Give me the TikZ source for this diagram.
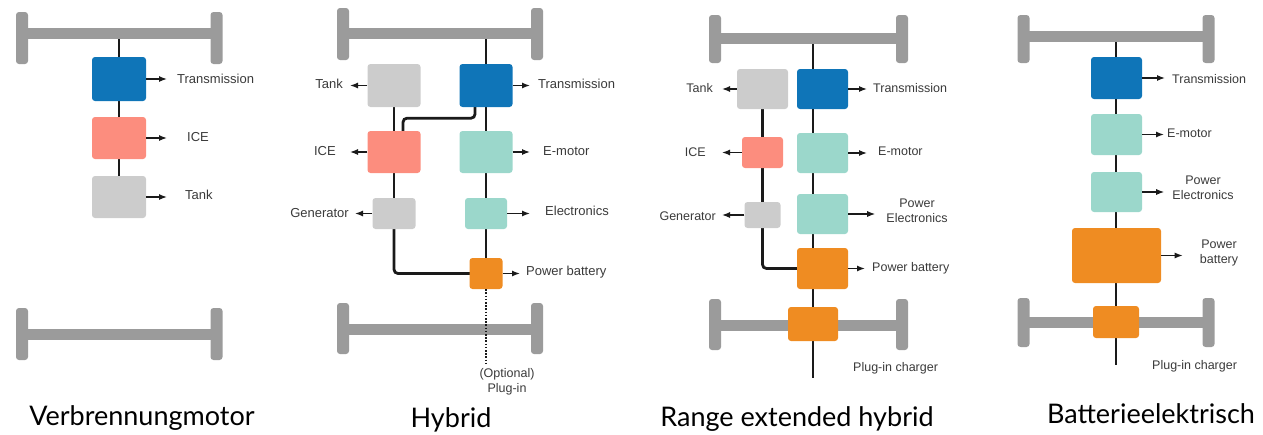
\documentclass[tikz,border=0pt]{standalone}
\usepackage{fontspec}
\newfontfamily\labfont{Liberation Sans}
\newfontfamily\capfont{Lato}
\usetikzlibrary{arrows.meta,backgrounds}
\definecolor{axlegray}{HTML}{9B9B9B}
\definecolor{tblue}{HTML}{0F75B8}
\definecolor{salmon}{HTML}{FC8D7E}
\definecolor{lgray}{HTML}{CCCCCC}
\definecolor{teal}{HTML}{9BD7CB}
\definecolor{orng}{HTML}{EF8C22}
\definecolor{labtext}{HTML}{3A3A3A}
\definecolor{wirecol}{HTML}{1A1A1A}
\newcommand\wheelaxle[5]{%
  \fill[axlegray] (#1,#5-5.5) rectangle (#2,#5+5.5);
  \fill[axlegray, rounded corners=3pt] (#1-6,#3) rectangle (#1+6,#4);
  \fill[axlegray, rounded corners=3pt] (#2-6,#3) rectangle (#2+6,#4);}
\begin{document}
\begin{tikzpicture}[x=1pt,y=-1pt,
  box/.style={rectangle, rounded corners=3pt, inner sep=0pt, draw=none},
  wire/.style={line width=2.8pt, wirecol},
  lbl/.style={font=\labfont\fontsize{13}{15}\selectfont, text=labtext, inner sep=0pt},
  lbls/.style={font=\labfont\fontsize{12.5}{15.5}\selectfont, text=labtext, inner sep=0pt, align=center},
  outarr/.style={line width=1.3pt, -{Latex[length=8pt,width=6pt]}, wirecol, shorten >=#1},
  outarr/.default=8pt,
  captxt/.style={font=\capfont\fontsize{27}{30}\selectfont, inner sep=0pt, anchor=base}
]
\useasboundingbox (0,0) rectangle (1263,434);

% ================= Panel 1: Verbrennungmotor
\wheelaxle{22}{216.5}{12}{64}{33.5}
\wheelaxle{22}{216.5}{308}{360}{334}
\coordinate (a1) at (119,33.5);
\node[box, fill=tblue, minimum width=54pt, minimum height=44pt] (p1t) at (119,79) {};
\node[box, fill=salmon, minimum width=54pt, minimum height=42pt] (p1i) at (119,138) {};
\node[box, fill=lgray, minimum width=54pt, minimum height=42pt] (p1k) at (119,197) {};
\begin{scope}[on background layer]
\draw[wire] (a1) -- (p1t.center);
\draw[wire] (p1t.center) -- (p1i.center) -- (p1k.north);
\end{scope}
\node[lbl, anchor=west] (l1t) at (177,79) {Transmission};
\node[lbl, anchor=west] (l1i) at (187,137) {ICE};
\node[lbl, anchor=west] (l1k) at (185,195) {Tank};
\draw[outarr=10pt] (p1t.east) -- (l1t.west |- p1t.east);
\draw[outarr=20pt] (p1i.east) -- (l1i.west |- p1i.east);
\draw[outarr=18pt] (p1k.east) -- (l1k.west |- p1k.east);
\node[captxt] (c1) at (142,425) {Verbrennungmotor};

% ================= Panel 2: Hybrid
\wheelaxle{343}{537}{8}{60}{33.5}
\wheelaxle{343}{537}{303}{354}{329}
\coordinate (a2) at (486,33.5);
\coordinate (e2) at (486,365);
\node[box, fill=lgray, minimum width=53pt, minimum height=43pt] (p2k) at (394,85.5) {};
\node[box, fill=tblue, minimum width=53pt, minimum height=43pt] (p2t) at (486,85.5) {};
\node[box, fill=salmon, minimum width=53pt, minimum height=42pt] (p2i) at (394,152) {};
\node[box, fill=teal, minimum width=53pt, minimum height=42pt] (p2e) at (486,152) {};
\node[box, fill=lgray, minimum width=43pt, minimum height=31pt] (p2g) at (394,213.5) {};
\node[box, fill=teal, minimum width=42pt, minimum height=31pt] (p2el) at (486,213.5) {};
\node[box, fill=orng, minimum width=33pt, minimum height=31pt] (p2b) at (486,273.5) {};
\begin{scope}[on background layer]
\draw[wire] (a2) -- (p2t.center) -- (p2e.center) -- (p2el.center) -- (p2b.center);
\draw[wire] (p2k.center) -- (p2i.center) -- (p2g.center);
\draw[wire, rounded corners=4pt] (p2g.center) |- (p2b.center);
\draw[wire, rounded corners=4pt] ([xshift=-11pt]p2t.south) -- ++(0,11) -| ([xshift=9pt]p2i.north);
\end{scope}
\draw[wirecol, line width=1.6pt, dash pattern=on 1.6pt off 1.6pt] (p2b.south) -- (e2);
\node[lbl, anchor=east] (l2k) at (343,84) {Tank};
\node[lbl, anchor=east] (l2i) at (336,151) {ICE};
\node[lbl, anchor=east] (l2g) at (349,213) {Generator};
\node[lbl, anchor=west] (l2t) at (538,84) {Transmission};
\node[lbl, anchor=west] (l2e) at (543,151) {E-motor};
\node[lbl, anchor=west] (l2el) at (545,211) {Electronics};
\node[lbl, anchor=west] (l2b) at (526,272) {Power battery};
\draw[outarr=7pt] (p2k.west) -- (l2k.east |- p2k.west);
\draw[outarr=14pt] (p2i.west) -- (l2i.east |- p2i.west);
\draw[outarr=6pt] (p2g.west) -- (l2g.east |- p2g.west);
\draw[outarr=8pt] (p2t.east) -- (l2t.west |- p2t.east);
\draw[outarr=13pt] (p2e.east) -- (l2e.west |- p2e.east);
\draw[outarr=15pt] (p2el.east) -- (l2el.west |- p2el.east);
\draw[outarr=6pt] (p2b.east) -- (l2b.west |- p2b.east);
\node[lbls] (l2o) at (507,382) {(Optional)\\Plug-in};
\node[captxt] (c2) at (451,427) {Hybrid};

% ================= Panel 3: Range extended hybrid
\wheelaxle{715}{902}{15}{63}{38.5}
\wheelaxle{715}{902}{299}{350}{325}
\coordinate (a3) at (813,38.5);
\coordinate (e3) at (813,378);
\node[box, fill=lgray, minimum width=51pt, minimum height=40pt] (p3k) at (762.5,89) {};
\node[box, fill=tblue, minimum width=51pt, minimum height=40pt] (p3t) at (822.5,89) {};
\node[box, fill=salmon, minimum width=41pt, minimum height=31pt] (p3i) at (762.5,152.5) {};
\node[box, fill=teal, minimum width=51pt, minimum height=40pt] (p3e) at (822.5,153) {};
\node[box, fill=lgray, minimum width=36pt, minimum height=26pt] (p3g) at (762.5,215) {};
\node[box, fill=teal, minimum width=51pt, minimum height=40pt] (p3pe) at (822.5,214) {};
\node[box, fill=orng, minimum width=51pt, minimum height=41pt] (p3b) at (822.5,268.5) {};
\node[box, fill=orng, minimum width=50pt, minimum height=34pt] (p3c) at (813,324) {};
\begin{scope}[on background layer]
\draw[wire] (a3) -- (p3c.center) -- (e3);
\draw[wire] (p3k.center) -- (p3i.center) -- (p3g.center);
\draw[wire, rounded corners=4pt] (p3g.center) |- (p3b.center);
\end{scope}
\node[lbls, anchor=east] (l3k) at (713,88) {Tank};
\node[lbls, anchor=east] (l3i) at (706,152) {ICE};
\node[lbls, anchor=east] (l3g) at (716,216) {Generator};
\node[lbls, anchor=west] (l3t) at (873,88) {Transmission};
\node[lbls, anchor=west] (l3e) at (878,151) {E-motor};
\node[lbls] (l3pe) at (917,211) {Power\\Electronics};
\node[lbls, anchor=west] (l3b) at (872,268) {Power battery};
\node[lbls, anchor=west] (l3c) at (853,368) {Plug-in charger};
\draw[outarr=9pt] (p3k.west) -- (l3k.east |- p3k.west);
\draw[outarr=16pt] (p3i.west) -- (l3i.east |- p3i.west);
\draw[outarr=6pt] (p3g.west) -- (l3g.east |- p3g.west);
\draw[outarr=6pt] (p3t.east) -- (l3t.west |- p3t.east);
\draw[outarr=11pt] (p3e.east) -- (l3e.west |- p3e.east);
\draw[outarr=11pt] (p3pe.east) -- (l3pe.west |- p3pe.east);
\draw[outarr=7pt] (p3b.east) -- (l3b.west |- p3b.east);
\node[captxt] (c3) at (797,426) {Range extended hybrid};

% ================= Panel 4: Batterieelektrisch
\wheelaxle{1023.5}{1208.5}{15}{63}{36}
\wheelaxle{1023.5}{1208.5}{298}{347}{322}
\coordinate (a4) at (1116,36);
\coordinate (e4) at (1116,365);
\node[box, fill=tblue, minimum width=51pt, minimum height=42pt] (p4t) at (1116.5,78) {};
\node[box, fill=teal, minimum width=51pt, minimum height=41pt] (p4e) at (1116.5,134.5) {};
\node[box, fill=teal, minimum width=51pt, minimum height=40pt] (p4pe) at (1116.5,192) {};
\node[box, fill=orng, minimum width=89pt, minimum height=55pt] (p4b) at (1116.5,255.5) {};
\node[box, fill=orng, minimum width=46pt, minimum height=32pt] (p4c) at (1116,322) {};
\begin{scope}[on background layer]
\draw[wire] (a4) -- (p4c.center) -- (e4);
\end{scope}
\node[lbls, anchor=west] (l4t) at (1172,79) {Transmission};
\node[lbls, anchor=west] (l4e) at (1167,133) {E-motor};
\node[lbls] (l4pe) at (1203,188) {Power\\Electronics};
\node[lbls] (l4b) at (1219,253) {Power\\battery};
\node[lbls, anchor=west] (l4c) at (1152,366) {Plug-in charger};
\draw[outarr=7pt] (p4t.east) -- (l4t.west |- p4t.east);
\draw[outarr=3pt] (p4e.east) -- (l4e.west |- p4e.east);
\draw[outarr=8pt] (p4pe.east) -- (l4pe.west |- p4pe.east);
\draw[outarr=17pt] (p4b.east) -- (l4b.west |- p4b.east);
\node[captxt] (c4) at (1151,423) {Batterieelektrisch};
\end{tikzpicture}
\end{document}
